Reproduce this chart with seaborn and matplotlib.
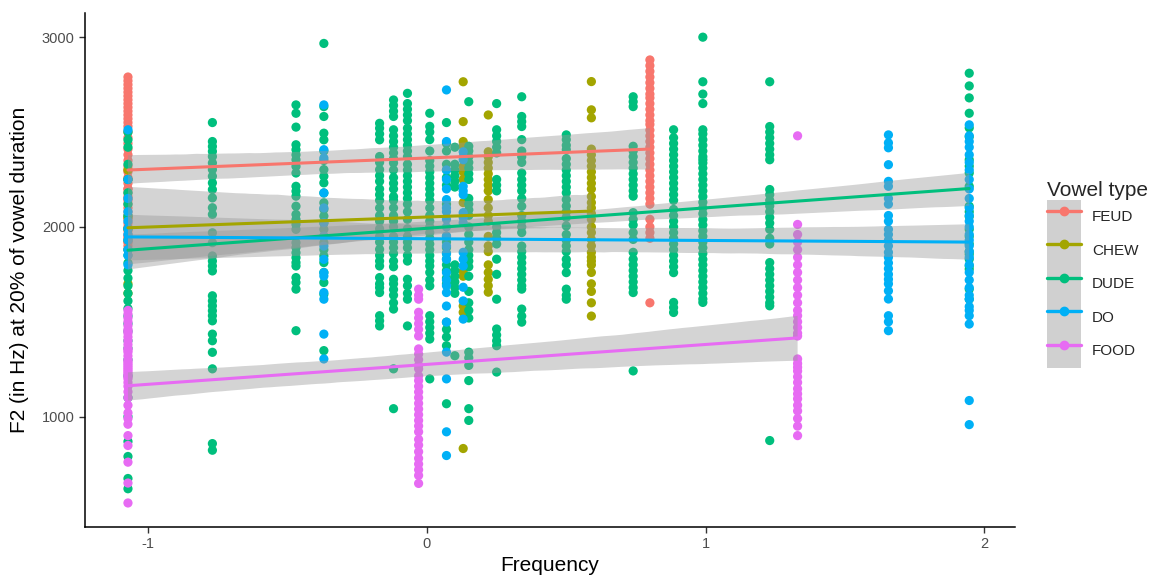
import matplotlib

matplotlib.use("Agg")

import matplotlib.pyplot as plt
import pandas as pd
import seaborn as sns
from matplotlib.legend_handler import HandlerTuple
from matplotlib.lines import Line2D
from matplotlib.patches import Rectangle

VOWELS = ["FEUD", "CHEW", "DUDE", "DO", "FOOD"]
COLORS = ["#F8766D", "#A3A500", "#00BF7D", "#00B0F6", "#E76BF3"]

# F2 values (Hz) per lexical frequency column
FEUD = {
    -1.073: [2790, 2770, 2750, 2730, 2710, 2690, 2670, 2650, 2630, 2610, 2590, 2570, 2550, 2530,
             2500, 2470, 2440, 2410, 2380, 2350, 2320, 2290, 2260, 2230, 2200, 2180, 2160, 2140,
             2120, 2100, 2080, 2060, 2040, 2020, 2000, 1980, 1960, 1940, 1920, 1900, 2250, 2150,
             2050, 2300, 2200, 1880, 1920, 1950],
    0.80: [2880, 2850, 2820, 2790, 2760, 2730, 2700, 2680, 2650, 2620, 2590, 2560, 2540, 2510,
           2480, 2450, 2420, 2390, 2360, 2330, 2300, 2270, 2240, 2210, 2180, 2150, 2120, 2040,
           2000, 1970, 1940, 1600],
}
CHEW = {
    -1.073: [1700, 1650, 1990, 2050, 2250, 2300],
    0.13: [2765, 2555, 2450, 2425, 2318, 2290, 2250, 2128, 1766, 1740, 1583, 1550, 832],
    0.22: [2590, 2396, 2370, 2340, 2310, 2280, 2250, 2220, 2190, 2144, 2100, 2060, 2030, 1950,
           1900, 1870, 1800, 1760, 1724, 1690, 1656],
    0.59: [2766, 2617, 2575, 2410, 2380, 2350, 2320, 2290, 2260, 2230, 2200, 2160, 2128, 2100,
           2070, 2040, 2000, 1970, 1934, 1900, 1866, 1840, 1820, 1800, 1760, 1700, 1660, 1600, 1530],
}
DUDE = {
    -1.073: [2500, 2459, 2420, 2330, 2250, 2180, 2120, 2060, 1990, 1930, 1880, 1850, 1810, 1770,
             1730, 1690, 1650, 1610, 1570, 1530, 1490, 1450, 1400, 1360, 1300, 1215, 1100, 1000,
             869, 790, 674, 620],
    -0.77: [2550, 2450, 2424, 2398, 2371, 2337, 2302, 2267, 2232, 2197, 2153, 2101, 2066, 1969,
            1917, 1847, 1820, 1794, 1768, 1637, 1610, 1584, 1558, 1532, 1505, 1435, 1400, 1339,
            1252, 858, 823],
    -0.47: [2643, 2599, 2526, 2433, 2407, 2380, 2354, 2319, 2284, 2214, 2188, 2162, 2109, 2066,
            2039, 2013, 1987, 1917, 1891, 1864, 1838, 1812, 1794, 1733, 1707, 1672, 1453],
    -0.37: [2967, 2634, 2582, 2494, 2459, 2400, 2350, 2302, 2267, 2232, 2179, 2127, 2092, 2057,
            2020, 1987, 1950, 1917, 1880, 1847, 1812, 1760, 1707, 1645, 1348],
    -0.17: [2546, 2520, 2490, 2459, 2371, 2340, 2302, 2270, 2240, 2200, 2170, 2140, 2100, 2060,
            2030, 1990, 1950, 1920, 1882, 1850, 1820, 1794, 1733, 1700, 1680, 1654, 1532, 1505, 1478],
    -0.12: [2669, 2640, 2610, 2582, 2512, 2480, 2450, 2420, 2390, 2360, 2337, 2300, 2260, 2230,
            2200, 2160, 2140, 2100, 2060, 2030, 2000, 1950, 1920, 1890, 1860, 1820, 1790, 1724,
            1700, 1670, 1640, 1600, 1567, 1252, 1042],
    -0.07: [2704, 2650, 2620, 2590, 2560, 2520, 2490, 2460, 2430, 2400, 2370, 2330, 2300, 2270,
            2240, 2210, 2180, 2150, 2120, 2080, 2040, 1990, 1950, 1920, 1890, 1850, 1820, 1724,
            1690, 1650, 1619, 1478],
    0.01: [2599, 2530, 2500, 2460, 2400, 2350, 2320, 2290, 2260, 2230, 2200, 2170, 2140, 2100,
           2060, 2030, 2000, 1970, 1940, 1910, 1880, 1850, 1820, 1794, 1760, 1720, 1689, 1532,
           1500, 1470, 1440, 1409, 1199],
    0.07: [2550, 2440, 2400, 2330, 2300, 2260, 2220, 2120, 1950, 1920, 1890, 1860, 1830, 1800,
           1770, 1730, 1700, 1498, 1460, 1420, 1374, 1068],
    0.10: [2420, 2330, 2300, 2270, 2240, 2210, 1800, 1770, 1740, 1710, 1680, 1650, 1321],
    0.15: [2660, 2425, 2400, 2370, 2340, 2310, 2280, 2250, 2150, 2120, 2090, 2060, 2000, 1960,
           1920, 1880, 1850, 1820, 1790, 1740, 1660, 1600, 1560, 1520, 1340, 1310, 1270, 1190,
           1042, 980],
    0.25: [2650, 2512, 2480, 2450, 2420, 2390, 2250, 2220, 2190, 2000, 1970, 1940, 1910, 1830,
           1750, 1619, 1462, 1430, 1400, 1374, 1235],
    0.34: [2686, 2582, 2555, 2529, 2460, 2400, 2370, 2340, 2284, 2250, 2220, 2190, 2150, 2109,
           2060, 2030, 2000, 1970, 1899, 1870, 1840, 1810, 1780, 1750, 1720, 1690, 1672, 1567,
           1530, 1498],
    0.50: [2485, 2460, 2430, 2407, 2360, 2330, 2300, 2270, 2240, 2210, 2180, 2144, 2110, 2080,
           2050, 2005, 1960, 1930, 1900, 1870, 1829, 1800, 1759, 1672, 1640, 1619],
    0.74: [2686, 2660, 2634, 2425, 2400, 2370, 2340, 2310, 2280, 2250, 2220, 2190, 2162, 2075,
           2040, 2010, 1970, 1934, 1866, 1830, 1800, 1770, 1740, 1710, 1680, 1654, 1241],
    0.885: [2512, 2470, 2440, 2410, 2380, 2350, 2320, 2290, 2260, 2230, 2200, 2170, 2140, 2092,
            2060, 2030, 2000, 1970, 1940, 1910, 1880, 1850, 1820, 1790, 1759, 1602, 1575, 1549],
    0.99: [3000, 2765, 2700, 2650, 2512, 2490, 2460, 2430, 2400, 2370, 2354, 2337, 2310, 2280,
           2250, 2220, 2190, 2160, 2130, 2100, 2070, 2039, 2010, 1980, 1950, 1920, 1890, 1860,
           1829, 1800, 1770, 1740, 1710, 1680, 1650, 1620, 1602],
    1.23: [2765, 2529, 2500, 2470, 2440, 2410, 2380, 2354, 2197, 2170, 2140, 2110, 2080, 2050,
           2020, 1987, 1940, 1910, 1812, 1780, 1750, 1720, 1690, 1660, 1630, 1600, 1584, 874],
    1.946: [2810, 2743, 2680, 2599, 2522, 2475, 2354, 2320, 2284, 2214, 2109, 2080, 2055, 1987,
            1950, 1910, 1870, 1856, 1830, 1794, 1777, 1672, 1619],
}
DO = {
    -1.073: [2512, 2250, 2150, 2080, 2030, 1990, 1960, 1930, 1880, 1850, 1800],
    -0.37: [2643, 2407, 2363, 2179, 2100, 2022, 1952, 1899, 1829, 1759, 1741, 1654, 1619, 1435, 1304],
    0.07: [2722, 2450, 2300, 2250, 2200, 2144, 2100, 2080, 2040, 2000, 1952, 1899, 1860, 1829,
           1759, 1720, 1690, 1654, 1583, 1498, 1340, 1199, 920, 795],
    0.13: [2396, 2370, 2354, 2214, 2190, 2170, 2075, 2050, 2022, 1866, 1830, 1794, 1682, 1610, 1514],
    1.656: [2485, 2443, 2417, 2328, 2240, 2214, 2150, 2120, 2060, 2030, 1987, 1960, 1930, 1900,
            1866, 1840, 1810, 1780, 1750, 1724, 1700, 1663, 1620, 1532, 1500, 1453],
    1.946: [2538, 2480, 2450, 2420, 2380, 2340, 2300, 2250, 2200, 2150, 2100, 2060, 2030, 2000,
            1960, 1930, 1900, 1870, 1840, 1800, 1760, 1720, 1680, 1640, 1619, 1580, 1560, 1532,
            1488, 1085, 958],
}
FOOD = {
    -1.073: [1560, 1540, 1520, 1500, 1480, 1460, 1450, 1440, 1420, 1400, 1380, 1360, 1350, 1340,
             1320, 1300, 1290, 1280, 1270, 1260, 1250, 1240, 1230, 1220, 1210, 1200, 1180, 1160,
             1131, 1100, 1060, 1020, 990, 960, 900, 848, 760, 650, 545],
    -0.03: [1672, 1640, 1619, 1550, 1520, 1490, 1460, 1425, 1357, 1330, 1300, 1270, 1252, 1215,
            1190, 1160, 1130, 1100, 1070, 1040, 1010, 980, 951, 920, 880, 850, 815, 780, 750,
            720, 690, 648],
    1.33: [2480, 2013, 1960, 1920, 1880, 1840, 1800, 1760, 1720, 1680, 1640, 1600, 1560, 1532,
           1500, 1470, 1440, 1425, 1304, 1280, 1260, 1240, 1210, 1180, 1147, 1120, 1094, 1060,
           1030, 990, 950, 900],
}

rows = []
for vowel, columns in zip(VOWELS, [FEUD, CHEW, DUDE, DO, FOOD]):
    for freq, values in columns.items():
        rows += [(vowel, freq, v) for v in values]
df = pd.DataFrame(rows, columns=["vowel", "frequency", "f2"])

sns.set_theme(style="ticks")
plt.rcParams["font.family"] = ["Liberation Sans", "DejaVu Sans"]
plt.rcParams["axes.unicode_minus"] = False

fig, ax = plt.subplots(figsize=(11.54, 5.77), dpi=100)
fig.subplots_adjust(left=0.0737, right=0.8795, bottom=0.0872, top=0.977)

sns.scatterplot(data=df, x="frequency", y="f2", hue="vowel", hue_order=VOWELS,
                palette=COLORS, s=44, linewidth=0, legend=False, ax=ax)

# linear fits per vowel, ggplot-style grey confidence bands
for vowel, color in zip(VOWELS, COLORS):
    n_before = len(ax.collections)
    sns.regplot(data=df[df["vowel"] == vowel], x="frequency", y="f2", scatter=False,
                color=color, seed=1, line_kws={"linewidth": 2.2}, ax=ax)
    for coll in ax.collections[n_before:]:
        coll.set_facecolor((0.6, 0.6, 0.6))
        coll.set_alpha(0.42)
        coll.set_edgecolor("none")

ax.set_xlim(-1.227, 2.11)
ax.set_ylim(420, 3126)
ax.set_xticks([-1, 0, 1, 2])
ax.set_yticks([1000, 2000, 3000])
ax.tick_params(labelsize=10.5, labelcolor="#4D4D4D", length=4, width=1, color="#333333")
for side in ["left", "bottom"]:
    ax.spines[side].set_linewidth(1.1)
    ax.spines[side].set_color("black")
sns.despine(ax=ax)

ax.set_xlabel("Frequency", fontsize=15, color="black")
ax.set_ylabel("F2 (in Hz) at 20% of vowel duration", fontsize=15, color="black")
ax.xaxis.set_label_coords(0.5, -0.058)
ax.yaxis.set_label_coords(-0.06, 0.5)

handles = [
    (Rectangle((0, 0), 1, 1, facecolor="#D0D0D0", edgecolor="none"),
     Line2D([], [], color=c, lw=2.4, marker="o", markersize=6))
    for c in COLORS
]
ax.legend(handles, VOWELS, handler_map={tuple: HandlerTuple(ndivide=1, pad=0)},
          title="Vowel type", title_fontsize=15, fontsize=11, frameon=False,
          loc="upper left", bbox_to_anchor=(1047 / 1154, 1 - 181 / 577),
          bbox_transform=fig.transFigure, borderpad=0, borderaxespad=0,
          handlelength=2.2, handleheight=3.0, labelspacing=0, handletextpad=0.75,
          numpoints=1, alignment="left")

plt.savefig("out.png", dpi=100)
